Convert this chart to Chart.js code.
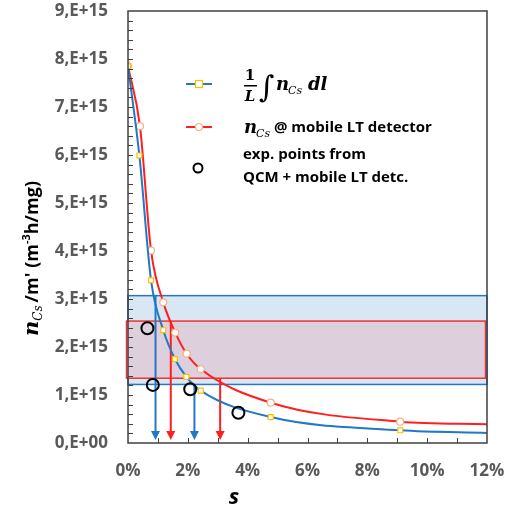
<!DOCTYPE html>
<html>
<head>
<meta charset="utf-8">
<script src="https://cdn.jsdelivr.net/npm/chart.js@4.4.1/dist/chart.umd.min.js"></script>
<style>
  body { margin: 0; background: #fff; }
  #wrap { width: 516px; height: 509px; }
</style>
</head>
<body>
<div id="wrap"><canvas id="grafico" width="516" height="509"></canvas></div>
<script>
// valores (s en %, n en m^-3 h/mg)
const sMedia = [0, 0.38, 0.77, 1.18, 1.57, 1.95, 2.43, 4.77, 9.1, 12];
const nMedia = [7.85e15, 5.99e15, 3.39e15, 2.35e15, 1.75e15, 1.38e15, 1.09e15, 0.54e15, 0.265e15, 0.21e15];

const sDetector = [0, 0.40, 0.77, 1.18, 1.58, 1.96, 2.43, 4.77, 9.1, 12];
const nDetector = [7.85e15, 6.6e15, 4.01e15, 2.93e15, 2.30e15, 1.86e15, 1.54e15, 0.84e15, 0.445e15, 0.39e15];

const sExp = [0.65, 0.83, 2.08, 3.69];
const nExp = [2.39e15, 1.21e15, 1.12e15, 0.63e15];

// bandas (min, max) y flechas
const bandaAzul = [1.22e15, 3.07e15];
const bandaRoja = [1.35e15, 2.54e15];
const flechasAzulX = [0.92, 2.22];
const flechasAzulDesde = [3.07e15, 1.22e15];
const flechasRojaX = [1.43, 3.08];
const flechasRojaDesde = [2.54e15, 1.35e15];

const xTickLabels = ["0%", "2%", "4%", "6%", "8%", "10%", "12%"];
const yTickLabels = ["0,E+00", "1,E+15", "2,E+15", "3,E+15", "4,E+15", "5,E+15", "6,E+15", "7,E+15", "8,E+15", "9,E+15"];

const AZUL = "#2378c4";
const ROJO = "#ff1f1f";
const GRIS = "#595959";

const puntos = (xs, ys) => xs.map((x, i) => ({ x: x, y: ys[i] }));
// el ultimo punto (12%) no lleva marcador
const radios = (xs, r) => xs.map((x, i) => (i === xs.length - 1 ? 0 : r));

const fondo = {
    id: "fondo",
    beforeDatasetsDraw(chart) {
        const { ctx, scales: { x, y } } = chart;
        ctx.save();
        // banda azul
        let x0 = x.getPixelForValue(0), x1 = x.getPixelForValue(12);
        let y0 = y.getPixelForValue(bandaAzul[1]), y1 = y.getPixelForValue(bandaAzul[0]);
        ctx.fillStyle = "#d8e7f3";
        ctx.fillRect(x0, y0, x1 - x0, y1 - y0);
        ctx.strokeStyle = AZUL; ctx.lineWidth = 1.5;
        ctx.strokeRect(x0, y0, x1 - x0, y1 - y0);
        // banda roja
        x0 = x.getPixelForValue(-0.05); x1 = x.getPixelForValue(11.95);
        y0 = y.getPixelForValue(bandaRoja[1]); y1 = y.getPixelForValue(bandaRoja[0]);
        ctx.fillStyle = "#ddd0dc";
        ctx.fillRect(x0, y0, x1 - x0, y1 - y0);
        ctx.strokeStyle = "#f03234"; ctx.lineWidth = 1.5;
        ctx.strokeRect(x0, y0, x1 - x0, y1 - y0);

        const flecha = (sx, desde, color) => {
            const px = x.getPixelForValue(sx);
            const pTop = y.getPixelForValue(desde);
            const pBot = y.getPixelForValue(0.06e15);
            ctx.strokeStyle = color; ctx.fillStyle = color; ctx.lineWidth = 2;
            ctx.beginPath(); ctx.moveTo(px, pTop); ctx.lineTo(px, pBot - 8); ctx.stroke();
            ctx.beginPath();
            ctx.moveTo(px - 4.5, pBot - 9); ctx.lineTo(px + 4.5, pBot - 9); ctx.lineTo(px, pBot);
            ctx.closePath(); ctx.fill();
        };
        flechasAzulX.forEach((s, i) => flecha(s, flechasAzulDesde[i], AZUL));
        flechasRojaX.forEach((s, i) => flecha(s, flechasRojaDesde[i], ROJO));
        ctx.restore();
    },
    afterDraw(chart) {
        const { ctx, chartArea: a, scales: { x, y } } = chart;
        ctx.save();
        // marco y ticks hacia dentro
        ctx.strokeStyle = "#404040"; ctx.lineWidth = 1.5;
        ctx.strokeRect(a.left, a.top, a.right - a.left, a.bottom - a.top);
        ctx.lineWidth = 1;
        ctx.beginPath();
        for (let k = 1; k < 45; k++) {
            const py = Math.round(y.getPixelForValue(k * 0.2e15)) + 0.5;
            ctx.moveTo(a.left, py); ctx.lineTo(a.left + 5, py);
        }
        for (let k = 1; k < 12; k++) {
            const px = Math.round(x.getPixelForValue(k)) + 0.5;
            ctx.moveTo(px, a.bottom); ctx.lineTo(px, a.bottom - 5);
        }
        ctx.stroke();

        // titulo eje y
        ctx.translate(31, 336);
        ctx.rotate(-Math.PI / 2);
        ctx.fillStyle = "#000";
        ctx.textBaseline = "alphabetic";
        let cx = 0;
        ctx.font = "bold italic 21px 'DejaVu Serif'";
        ctx.fillText("n", 0, 7); cx += ctx.measureText("n").width;
        ctx.font = "italic 12px 'DejaVu Serif'";
        ctx.fillText("Cs", cx, 11); cx += ctx.measureText("Cs").width + 3;
        ctx.font = "bold 18px 'Open Sans'";
        ctx.fillText("/m' (m", cx, 7); cx += ctx.measureText("/m' (m").width;
        ctx.font = "bold 11px 'Open Sans'";
        ctx.fillText("-3", cx, -1); cx += ctx.measureText("-3").width;
        ctx.font = "bold 18px 'Open Sans'";
        ctx.fillText("h/mg)", cx, 7);
        ctx.setTransform(1, 0, 0, 1, 0, 0);

        // titulo eje x
        ctx.font = "bold italic 22px 'Open Sans'";
        ctx.textAlign = "center";
        ctx.fillText("s", 234, 504);

        // leyenda
        ctx.textAlign = "left";
        const linea = (yy, color) => {
            ctx.strokeStyle = color; ctx.lineWidth = 2;
            ctx.beginPath(); ctx.moveTo(186, yy); ctx.lineTo(212, yy); ctx.stroke();
        };
        linea(84, AZUL);
        ctx.fillStyle = "#fff"; ctx.strokeStyle = "#ffc000"; ctx.lineWidth = 1.2;
        ctx.fillRect(195.5, 80.5, 7, 7); ctx.strokeRect(195.5, 80.5, 7, 7);
        linea(127, ROJO);
        ctx.beginPath(); ctx.arc(199, 127, 3.5, 0, Math.PI * 2);
        ctx.fillStyle = "#fff"; ctx.fill(); ctx.strokeStyle = "#f4b183"; ctx.lineWidth = 1.2; ctx.stroke();
        ctx.beginPath(); ctx.arc(198, 168, 4.5, 0, Math.PI * 2);
        ctx.strokeStyle = "#000"; ctx.lineWidth = 2; ctx.stroke();

        ctx.fillStyle = "#000";
        ctx.font = "bold 15px 'DejaVu Serif'";
        ctx.textAlign = "center";
        ctx.fillText("1", 250, 80);
        ctx.font = "bold italic 15px 'DejaVu Serif'";
        ctx.fillText("L", 250, 101);
        ctx.fillRect(244, 85, 13, 1.5);
        ctx.textAlign = "left";
        ctx.font = "30px 'DejaVu Serif'";
        ctx.fillText("\u222B", 259, 97);
        ctx.font = "bold italic 18px 'DejaVu Serif'";
        ctx.fillText("n", 276, 90);
        ctx.font = "italic 11px 'DejaVu Serif'";
        ctx.fillText("Cs", 288, 94);
        ctx.font = "bold italic 18px 'DejaVu Serif'";
        ctx.fillText("dl", 308, 90);

        ctx.fillText("n", 244, 133);
        ctx.font = "italic 11px 'DejaVu Serif'";
        ctx.fillText("Cs", 256, 137);
        ctx.font = "bold 15px 'Open Sans'";
        ctx.fillText("@ mobile LT detector", 274, 132);
        ctx.fillText("exp. points from", 243, 159);
        ctx.fillText("QCM + mobile LT detc.", 243, 182);
        ctx.restore();
    }
};

new Chart(document.getElementById("grafico"), {
    type: "scatter",
    data: {
        datasets: [
            {
                data: puntos(sExp, nExp),
                showLine: false,
                pointStyle: "circle",
                pointRadius: 6,
                pointBorderWidth: 2,
                pointBorderColor: "#000",
                pointBackgroundColor: "rgba(0,0,0,0)"
            },
            {
                data: puntos(sMedia, nMedia),
                showLine: true,
                borderColor: AZUL,
                borderWidth: 2,
                cubicInterpolationMode: "monotone",
                pointStyle: "rect",
                pointRadius: radios(sMedia, 3.5),
                pointBorderWidth: 1.2,
                pointBorderColor: "#ffc000",
                pointBackgroundColor: "#fff"
            },
            {
                data: puntos(sDetector, nDetector),
                showLine: true,
                borderColor: ROJO,
                borderWidth: 2,
                cubicInterpolationMode: "monotone",
                pointStyle: "circle",
                pointRadius: radios(sDetector, 3.5),
                pointBorderWidth: 1.2,
                pointBorderColor: "#f4b183",
                pointBackgroundColor: "#fff"
            }
        ]
    },
    options: {
        responsive: false,
        animation: false,
        layout: { padding: { top: 11, right: 29, left: 0, bottom: 0 } },
        plugins: { legend: { display: false }, tooltip: { enabled: false } },
        scales: {
            x: {
                type: "linear", min: 0, max: 12,
                grid: { display: false, drawTicks: false },
                border: { display: false },
                afterFit: (s) => { s.height = 66; s.paddingLeft = 0; s.paddingRight = 0; },
                ticks: {
                    stepSize: 2, padding: 18, color: GRIS,
                    font: { family: "Open Sans", size: 17, weight: "bold" },
                    callback: (v, i) => xTickLabels[i]
                }
            },
            y: {
                min: 0, max: 9e15,
                grid: { display: false, drawTicks: false },
                border: { display: false },
                afterFit: (s) => { s.width = 128; s.paddingTop = 0; s.paddingBottom = 0; },
                ticks: {
                    stepSize: 1e15, padding: 20, color: GRIS,
                    font: { family: "Open Sans", size: 17, weight: "bold" },
                    callback: (v, i) => yTickLabels[i]
                }
            }
        }
    },
    plugins: [fondo]
});
</script>
</body>
</html>
